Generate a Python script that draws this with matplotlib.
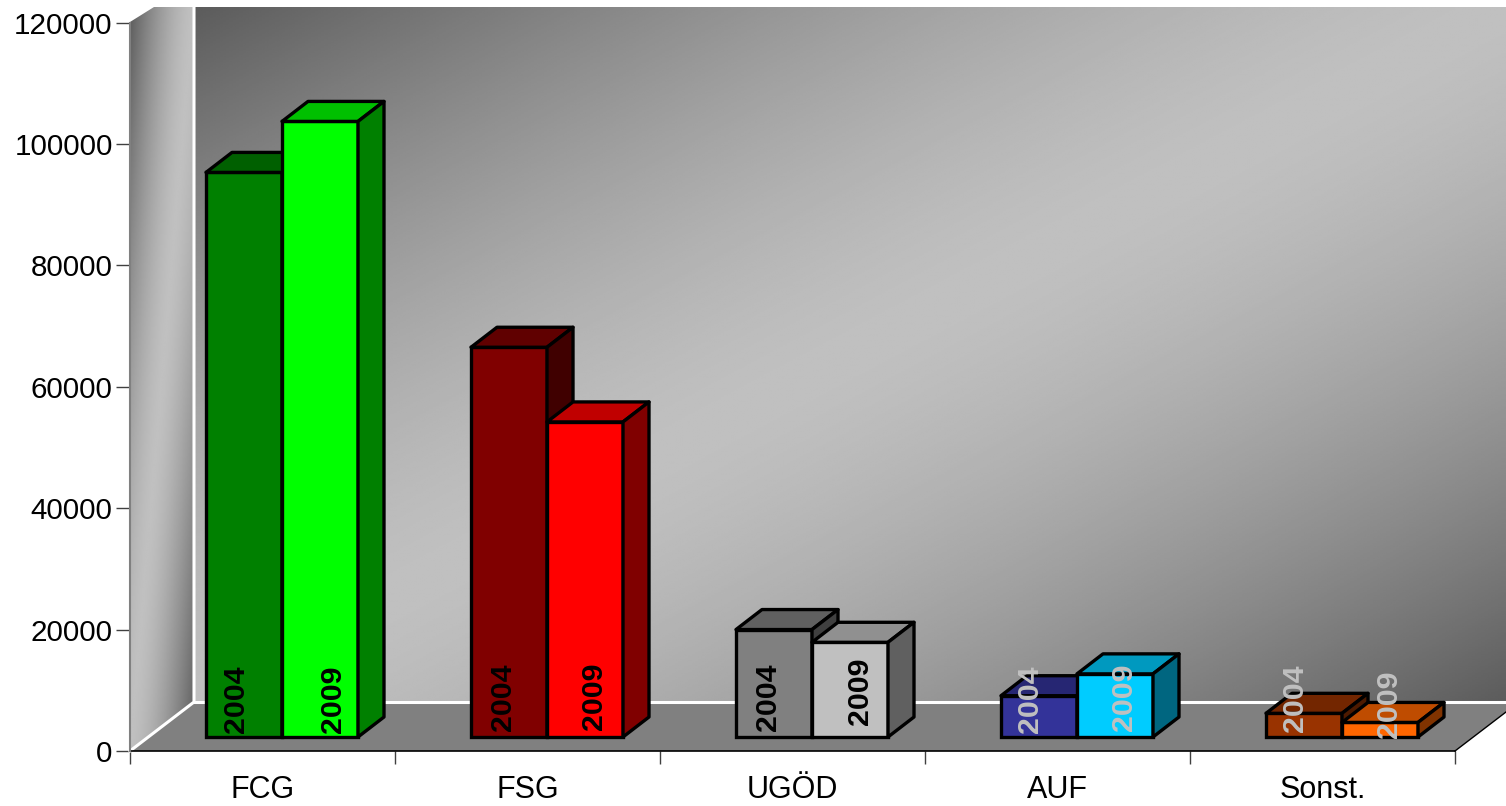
import numpy as np
import matplotlib
matplotlib.use("Agg")
import matplotlib.pyplot as plt
from matplotlib.patches import Polygon

plt.rcParams['font.family'] = ['Liberation Sans', 'DejaVu Sans']

categories = ['FCG', 'FSG', 'UGÖD', 'AUF', 'Sonst.']
series_names = ['2004', '2009']
values_2004 = [93000, 64200, 17700, 6800, 3900]
values_2009 = [101400, 51900, 15600, 10400, 2400]

# front, top, side colours per category
colors_2004 = [('#008000', '#006000', '#004000'), ('#800000', '#600000', '#400000'),
               ('#808080', '#606060', '#404040'), ('#333399', '#262673', '#1a1a4d'),
               ('#993300', '#732600', '#4d1a00')]
colors_2009 = [('#00ff00', '#00c000', '#008000'), ('#ff0000', '#c00000', '#800000'),
               ('#c0c0c0', '#909090', '#606060'), ('#00ccff', '#0099bf', '#006680'),
               ('#ff6600', '#bf4c00', '#803300')]
label_colors = ['black', 'black', 'black', '#c0c0c0', '#c0c0c0']

W, H = 1506, 806
fig = plt.figure(figsize=(W / 100, H / 100), dpi=100, facecolor='white')
ax = fig.add_axes([130 / W, 1 - 751 / H, 1325 / W, 728.5 / H])
ax.set_xlim(0, 5)
ax.set_ylim(0, 120000)

# helpers: pixel lengths expressed in data units
px_x = 5 / 1325
px_y = 120000 / 728.5


def to_data(x, y):
    return (x - 130) * px_x, (751 - y) * px_y


def wall_shade(nx, ny):
    # diagonal gradient, dark in two corners and light across the middle
    t = (nx + ny) / 2
    frac = 1 - np.clip(np.abs(t - 0.5) / 0.5, 0, 1) ** 1.5
    return (0x5c + (0xc0 - 0x5c) * frac) / 255


# back wall
gx, gy = np.meshgrid(np.linspace(0, 1, 400), np.linspace(0, 1, 400))
x0, y0 = to_data(195, 702)
x1, y1 = to_data(W, 7)
ax.imshow(wall_shade(gx, gy), cmap='gray', vmin=0, vmax=1, extent=[x0, x1, y0, y1], aspect='auto',
          origin='upper', zorder=1, clip_on=False, interpolation='bilinear')

# left wall
gx, gy = np.meshgrid(np.linspace(0, 1, 100), np.linspace(0, 1, 400))
xa, ya = to_data(130, 751)
xb, yb = to_data(194, 7)
im = ax.imshow(wall_shade(gx, gy), cmap='gray', vmin=0, vmax=1, extent=[xa, xb, ya, yb], aspect='auto',
               origin='upper', zorder=1, interpolation='bilinear')
wall_clip = Polygon([to_data(130, 751), to_data(130, 22), to_data(154, 7), to_data(194, 7), to_data(194, 702)],
                    transform=ax.transData, fc='none', ec='none', clip_on=False)
ax.add_patch(wall_clip)
im.set_clip_box(fig.bbox)
im.set_clip_path(wall_clip)

# floor
ax.add_patch(Polygon([to_data(130, 751), to_data(194, 702), to_data(W, 702), to_data(W, 712), to_data(1455, 751)],
                     fc='#808080', ec='none', zorder=2, clip_on=False))
ax.plot(*zip(to_data(130, 751), to_data(194, 702), to_data(194, 7)), color='white', lw=2.2, zorder=3, clip_on=False)
ax.plot(*zip(to_data(194, 702), to_data(W, 702)), color='white', lw=2.2, zorder=3, clip_on=False)
ax.plot(*zip(to_data(1455, 751), to_data(W, 712)), color='black', lw=1, zorder=3, clip_on=False)

ax.set_ylim(0, 120000)
ax.set_xlim(0, 5)

# 3d bars
base = 14 * px_y
dx = 26 * px_x
dy = 20 * px_y
bar_w = 76 * px_x
group_off = 76 * px_x
x_pos = np.arange(len(categories))

# label placement in pixels from the bar corner
shift_x = [[30, 32, 32, 29, 29], [51, 47, 48, 47, 47]]
shift_y = [[4, 6, 6, 4, 5], [4, 7, 12, 6, -1]]

for j, (name, vals, cols) in enumerate(zip(series_names, [values_2004, values_2009], [colors_2004, colors_2009])):
    lefts = x_pos + group_off + j * bar_w
    z = 5 + j
    ax.bar(lefts, vals, width=bar_w, bottom=base, align='edge', color=[c[0] for c in cols],
           edgecolor='black', linewidth=2.4, zorder=z, clip_on=False)
    for i, (left, v, c, lc) in enumerate(zip(lefts, vals, cols, label_colors)):
        top = base + v
        right = left + bar_w
        ax.add_patch(Polygon([(left, top), (left + dx, top + dy), (right + dx, top + dy), (right, top)],
                             fc=c[1], ec='black', lw=2.4, joinstyle='round', zorder=z, clip_on=False))
        ax.add_patch(Polygon([(right, base), (right, top), (right + dx, top + dy), (right + dx, base + dy)],
                             fc=c[2], ec='black', lw=2.4, joinstyle='round', zorder=z, clip_on=False))
        ax.text(left + shift_x[j][i] * px_x, base + shift_y[j][i] * px_y, name, rotation=90, ha='center', va='bottom',
                fontsize=21.9, fontweight='bold', color=lc, zorder=10, clip_on=False)

# axes
for s in ['top', 'right', 'bottom']:
    ax.spines[s].set_visible(False)
ax.spines['left'].set_color('#808080')
ax.spines['left'].set_linewidth(1.5)
ax.spines['left'].set_zorder(4)
ax.axhline(0, color='black', lw=1.2, zorder=4, clip_on=False)
ax.set_yticks(np.arange(0, 120001, 20000))
ax.set_xticks(np.arange(0, 6))
ax.set_xticklabels([])
ax.set_xticks(x_pos + 0.5, minor=True)
ax.set_xticklabels(categories, minor=True)
ax.tick_params(axis='x', which='minor', length=0, labelsize=22, pad=17)
ax.tick_params(axis='x', which='major', length=9, width=1, color='#404040')
ax.tick_params(axis='y', length=10, width=1, color='#404040', labelsize=21.3, pad=2.5)

fig.savefig('out.png', dpi=100, facecolor='white')
